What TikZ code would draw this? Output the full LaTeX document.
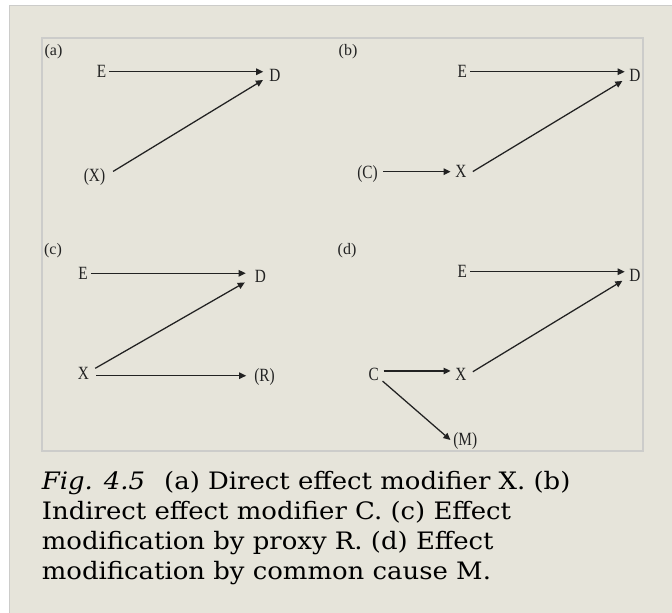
\documentclass[tikz,border=0pt]{standalone}
\usepackage{fontspec}
\setmainfont{DejaVu Serif}
\newfontfamily\capfont[FakeStretch=1.08]{DejaVu Serif}
\newfontfamily\lblfont[FakeStretch=0.82]{Liberation Serif}
\newfontfamily\plabfont{Liberation Serif}
\usetikzlibrary{arrows.meta}
\definecolor{bg}{RGB}{230,228,218}
\definecolor{framec}{RGB}{204,204,202}
\definecolor{ink}{RGB}{34,34,34}
\begin{document}
\begin{tikzpicture}[x=0.75pt,y=-0.75pt,
 lbl/.style={inner sep=0pt, text height=9.3pt, text depth=0pt, font=\lblfont\fontsize{14pt}{16pt}\selectfont, text=ink},
 plab/.style={inner sep=0pt, font=\plabfont\fontsize{12pt}{13pt}\selectfont, text=ink},
 arr/.style={draw=ink, line width=0.95pt, -{Triangle[length=5.25pt,width=4.9pt]}},
]
\useasboundingbox (0,0) rectangle (672,612);
\clip (0,0) rectangle (672,612);
\fill[white] (0,0) rectangle (672,612);
\filldraw[fill=bg, draw=framec, line width=1.2pt] (9.3,5.3) rectangle (700,640);
\draw[framec, line width=1.5pt] (41.7,37.7) rectangle (642.7,450.7);

% (a)
\node[plab] (la) at (53.5,51.5) {(a)};
\node[lbl] (Ea) at (101.5,71.7) {E};
\node[lbl] (Da) at (275,75) {D};
\node[lbl] (Xa) at (94.5,174.8) {(X)};
\draw[arr, shorten <=2.25pt, shorten >=4.5pt] (Ea.east) -- (Ea.east -| Da.west);
\draw[arr, shorten <=6.75pt, shorten >=5.5pt] ([yshift=-1pt]Xa.east) -- ([yshift=-0.9pt]Da.west);

% (b)
\node[plab] (lb) at (348,51.5) {(b)};
\node[lbl] (Eb) at (462.2,71.7) {E};
\node[lbl] (Db) at (635,75) {D};
\node[lbl] (Xb) at (461,171.7) {X};
\node[lbl] (Cb) at (367.5,172.5) {(C)};
\draw[arr, shorten <=2.3pt, shorten >=3.4pt] (Eb.east) -- (Eb.east -| Db.west);
\draw[arr, shorten <=5.3pt, shorten >=6pt] ([yshift=-2.6pt]Xb.east) -- ([yshift=-1.4pt]Db.west);
\draw[arr, shorten <=3.8pt, shorten >=3.5pt] (Xb.west -| Cb.east) -- (Xb.west);

% (c)
\node[plab] (lc) at (53,250.5) {(c)};
\node[lbl] (Ec) at (83,273.3) {E};
\node[lbl] (Dc) at (260.5,276.7) {D};
\node[lbl] (Xc) at (83.3,373.3) {X};
\node[lbl] (Rc) at (264.5,375.7) {(R)};
\draw[arr, shorten <=2.25pt, shorten >=6.75pt] (Ec.east) -- (Ec.east -| Dc.west);
\draw[arr, shorten <=5.3pt, shorten >=8.6pt] ([yshift=1.1pt]Xc.east) -- (Dc.west);
\draw[arr, shorten <=5.3pt, shorten >=5.9pt] (Rc.west -| Xc.east) -- (Rc.west);

% (d)
\node[plab] (ld) at (347,250.5) {(d)};
\node[lbl] (Ed) at (462.2,271.7) {E};
\node[lbl] (Dd) at (635,275) {D};
\node[lbl] (Xd) at (461,374.5) {X};
\node[lbl] (Cd) at (373.7,374.3) {C};
\node[lbl] (Md) at (465.3,439) {(M)};
\draw[arr, shorten <=2.3pt, shorten >=3.4pt] (Ed.east) -- (Ed.east -| Dd.west);
\draw[arr, shorten <=5.3pt, shorten >=6pt] ([yshift=-0.7pt]Xd.east) -- ([yshift=-1.2pt]Dd.west);
\draw[arr, shorten <=3.4pt, shorten >=3.5pt] ([yshift=2.5pt]Cd.east) -- ([yshift=2.5pt]Cd.east -| Xd.west);
\draw[arr, shorten <=3.5pt, shorten >=2.7pt] ([yshift=-2.8pt]Cd.east) -- ([yshift=-2.5pt]Md.west);

% caption (base anchor = baseline of last line)
\node[anchor=base west, inner sep=0pt, align=left, text=black,
      font=\capfont\fontsize{18pt}{22.5pt}\selectfont] (cap) at (41.6,579.3)
 {\textit{Fig. 4.5}\hspace{0.45em} (a) Direct effect modifier X. (b)\\
  Indirect effect modifier C. (c) Effect\\
  modification by proxy R. (d) Effect\\
  modification by common cause M.};
\end{tikzpicture}
\end{document}
